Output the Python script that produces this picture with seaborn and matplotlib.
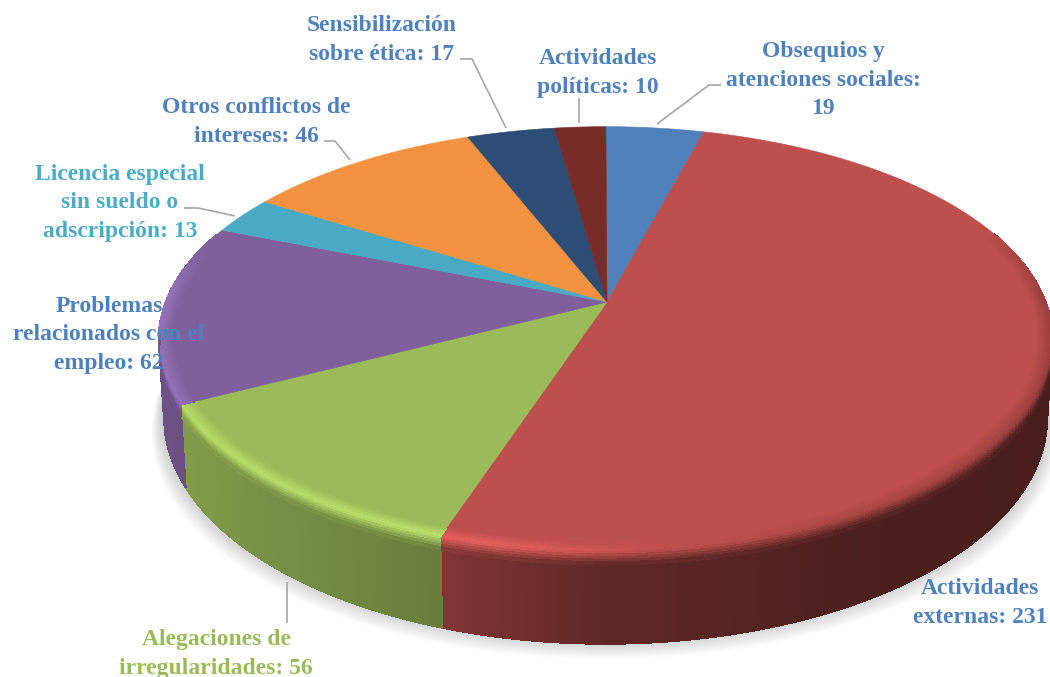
import numpy as np
import matplotlib
matplotlib.use("Agg")
import matplotlib.pyplot as plt
from matplotlib.collections import PolyCollection
import seaborn as sns

categories = ["Obsequios y atenciones sociales", "Actividades externas",
              "Alegaciones de irregularidades", "Problemas relacionados con el empleo",
              "Licencia especial sin sueldo o adscripción", "Otros conflictos de intereses",
              "Sensibilización sobre ética", "Actividades políticas"]
values = [19, 231, 56, 62, 13, 46, 17, 10]
slice_colors = ["#4F80BA", "#BD4F4C", "#9BBA59", "#7F609C", "#4AA9C3", "#F39341", "#2C4D75", "#772C2A"]
label_lines = ["Obsequios y\natenciones sociales:\n19", "Actividades\nexternas: 231",
               "Alegaciones de\nirregularidades: 56", "Problemas\nrelacionados con el\nempleo: 62",
               "Licencia especial\nsin sueldo o\nadscripción: 13", "Otros conflictos de\nintereses: 46",
               "Sensibilización\nsobre ética: 17", "Actividades\npolíticas: 10"]
label_colors = ["#4F81BD", "#4F81BD", "#9BBB59", "#4F81BD", "#4BACC6", "#4F81BD", "#4F81BD", "#4F81BD"]
label_xy = [(823, 80), (980, 603), (216, 654), (109, 335), (120, 203), (256, 122), (382, 40), (598, 73)]
leaders = [[(721, 85), (709, 85), (657, 124)], [], [(287, 582), (287, 623)], [],
           [(184, 208), (198, 208), (235, 216)], [(324, 141), (335, 141), (350, 160)],
           [(460, 59), (472, 59), (506, 128)], [(579, 98), (579, 123)]]

sns.set_theme(style="white")
palette = sns.color_palette(slice_colors)

CX, CY, A, B, P, DEPTH, TAPER, SKEW = 607.0, 302.0, 440.0, 206.0, 0.175, 76.0, 0.988, 0.003


def top(theta, r=1.0):
    x, y = r * np.sin(theta), r * np.cos(theta)
    d = 1 + P * y
    return CX + A * (x - SKEW * r * r) / d, CY - B * y / d


def bottom(theta, r=1.0, frac=1.0):
    x, y = r * np.sin(theta), r * np.cos(theta)
    d = 1 + P * y
    k = 1 - (1 - TAPER) * frac
    return CX + A * k * (x - SKEW * r * r) / d, CY - B * y / d + frac * DEPTH / d


def side_shade(x):
    return np.interp(x, [-1, -0.9, -0.3, 0, 0.5, 1], [0.85, 0.84, 0.67, 0.50, 0.40, 0.38])


def rim_peak(x):
    return np.interp(x, [-1, -0.2, 0.1, 0.5, 1], [1.18, 1.22, 1.02, 0.9, 0.8])


def shade(rgb, f):
    return tuple(np.clip(np.asarray(rgb) * f, 0, 1))


def ring_color(rgb, th, v):
    """v: 0 = flat top colour, 1 = rim ridge, 2 = wall colour."""
    x, y = np.sin(th), np.cos(th)
    w = np.clip((0.45 - y) / 0.3, 0, 1)
    ridge = (1 - w) * side_shade(x) + w * rim_peak(x)
    back = np.clip((y - 0.05) / 0.3, 0, 1)
    ridge = ridge * (1 - back) + back
    if v <= 1:
        f = 1 + (ridge - 1) * v
    else:
        f = ridge + (side_shade(x) - ridge) * (v - 1)
    return shade(rgb, f)


fig = plt.figure(figsize=(10.5, 6.77), dpi=100)
ax = fig.add_axes([0, 0, 1, 1])
ax.set_xlim(0, 1050)
ax.set_ylim(677, 0)
ax.axis("off")

edges = np.cumsum([0] + values) / sum(values) * 2 * np.pi

# soft shadow below the disc
ring = np.linspace(0, 2 * np.pi, 361)
for k in range(14, 0, -1):
    sx, sy = bottom(ring)
    sx = CX + (sx - CX) * (1 + 0.0020 * k)
    sy = sy + 1.5 * k - 6
    ax.fill(sx, sy, color="#000000", alpha=0.014, lw=0, zorder=1)

# wall of the disc
polys, cols = [], []
for i, rgb in enumerate(palette):
    n = max(int((edges[i + 1] - edges[i]) / np.radians(0.5)), 2)
    th = np.linspace(edges[i], edges[i + 1], n + 1)
    for a, b in zip(th[:-1], th[1:]):
        m = (a + b) / 2
        if np.cos(m) > 0.35:
            continue
        xa, ya = top(a)
        xb, yb = top(b)
        xc, yc = bottom(b)
        xd, yd = bottom(a)
        polys.append([(xa, ya), (xb, yb), (xc, yc), (xd, yd)])
        cols.append(shade(rgb, side_shade(np.sin(m))))
ax.add_collection(PolyCollection(polys, facecolors=cols, edgecolors=cols, linewidths=0.6,
                                 antialiaseds=False, zorder=2))

# flat top face
for i, rgb in enumerate(palette):
    th = np.linspace(edges[i], edges[i + 1], 200)
    xs, ys = top(th)
    ax.fill(np.r_[CX, xs], np.r_[CY, ys], color=rgb, lw=0.4, zorder=3)

# rounded bevel along the front rim
levels = np.linspace(0, 1, 9)
radii = 0.968 + 0.032 * levels
polys, cols = [], []
for i, rgb in enumerate(palette):
    n = max(int((edges[i + 1] - edges[i]) / np.radians(0.8)), 2)
    th = np.linspace(edges[i], edges[i + 1], n + 1)
    for a, b in zip(th[:-1], th[1:]):
        m = (a + b) / 2
        if np.cos(m) > 0.34:
            continue
        for l0, l1, r0, r1 in zip(levels[:-1], levels[1:], radii[:-1], radii[1:]):
            xa, ya = top(a, r0)
            xb, yb = top(b, r0)
            xc, yc = top(b, r1)
            xd, yd = top(a, r1)
            polys.append([(xa, ya), (xb, yb), (xc, yc), (xd, yd)])
            cols.append(ring_color(rgb, m, (l0 + l1) / 2))
        if np.cos(m) > -0.12:
            continue
        for f0, f1 in zip(np.linspace(0, 0.14, 6)[:-1], np.linspace(0, 0.14, 6)[1:]):
            xa, ya = bottom(a, 1, f0)
            xb, yb = bottom(b, 1, f0)
            xc, yc = bottom(b, 1, f1)
            xd, yd = bottom(a, 1, f1)
            polys.append([(xa, ya), (xb, yb), (xc, yc), (xd, yd)])
            cols.append(ring_color(rgb, m, 1 + (f0 + f1) / 2 / 0.14))
ax.add_collection(PolyCollection(polys, facecolors=cols, edgecolors=cols, linewidths=0.5,
                                 antialiaseds=False, zorder=4))

for pts in leaders:
    if pts:
        px, py = zip(*pts)
        ax.plot(px, py, color="#A6A6A6", lw=1.2, zorder=5, solid_capstyle="butt")

for txt, col, (lx, ly) in zip(label_lines, label_colors, label_xy):
    ax.text(lx, ly, txt, color=col, ha="center", va="center", multialignment="center",
            family="Liberation Serif", fontweight="bold", fontsize=17.0, linespacing=1.45, zorder=6)

fig.savefig("out.png", dpi=100, facecolor="white")
